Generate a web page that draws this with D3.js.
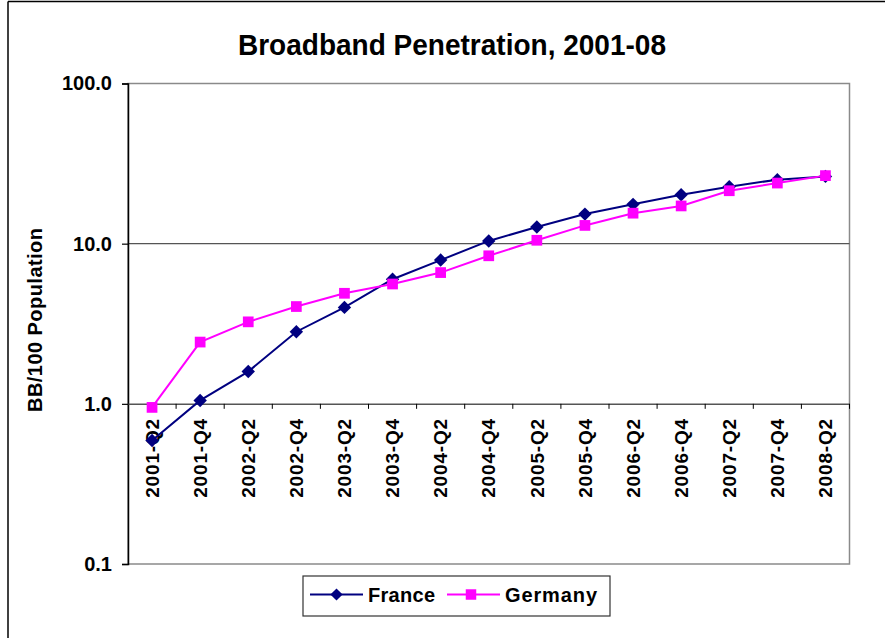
<!DOCTYPE html>
<html>
<head>
<meta charset="utf-8">
<script src="https://cdn.jsdelivr.net/npm/d3@7"></script>
<style>
  body { margin: 0; background: #fff; }
  svg text { font-family: "Liberation Sans", Arial, sans-serif; font-weight: bold; fill: #000; }
</style>
</head>
<body>
<svg id="chart" width="885" height="638"></svg>
<script>
// quarters on the x axis
const quarters = ["2001-Q2", "2001-Q4", "2002-Q2", "2002-Q4", "2003-Q2", "2003-Q4", "2004-Q2", "2004-Q4",
                  "2005-Q2", "2005-Q4", "2006-Q2", "2006-Q4", "2007-Q2", "2007-Q4", "2008-Q2"];
// broadband lines per 100 people
const france  = [0.59, 1.05, 1.59, 2.82, 4.0, 6.0, 7.9, 10.4, 12.7, 15.3, 17.6, 20.2, 22.7, 25.1, 26.3];
const germany = [0.95, 2.43, 3.25, 4.05, 4.9, 5.6, 6.6, 8.4, 10.5, 13.0, 15.5, 17.2, 21.4, 23.9, 26.6];
const yTicks = [0.1, 1, 10, 100];

const svg = d3.select("#chart");
const plot = {left: 128, top: 83.5, right: 849.5, bottom: 564};

// chart frame (only left and top edges are visible in the original)
svg.append("line").attr("x1", 8).attr("x2", 8).attr("y1", 1.5).attr("y2", 638)
    .attr("stroke", "#000").attr("stroke-width", 1.5);
svg.append("line").attr("x1", 8).attr("x2", 885).attr("y1", 1.5).attr("y2", 1.5)
    .attr("stroke", "#000").attr("stroke-width", 1.5);

svg.append("text")
    .attr("x", 452).attr("y", 55)
    .attr("text-anchor", "middle")
    .style("font-size", "29px")
    .attr("textLength", 428)
    .attr("lengthAdjust", "spacingAndGlyphs")
    .text("Broadband Penetration, 2001-08");

const x = d3.scaleBand().domain(quarters).range([plot.left, plot.right]);
const y = d3.scaleLog().domain([0.1, 100]).range([plot.bottom, plot.top]);

// plot area border
svg.append("rect")
    .attr("x", plot.left).attr("y", plot.top)
    .attr("width", plot.right - plot.left).attr("height", plot.bottom - plot.top)
    .attr("fill", "none").attr("stroke", "#8a8a8a").attr("stroke-width", 1.5);

// gridline at 10
svg.append("line")
    .attr("x1", plot.left).attr("x2", plot.right)
    .attr("y1", y(10)).attr("y2", y(10))
    .attr("stroke", "#555").attr("stroke-width", 1.2);

// y axis
const yAxis = svg.append("g")
    .attr("transform", `translate(${plot.left},0)`)
    .call(d3.axisLeft(y).tickValues(yTicks).tickFormat(d3.format(".1f")).tickSize(6).tickPadding(10));
yAxis.select(".domain").attr("stroke", "#000").attr("stroke-width", 1.5);
yAxis.selectAll(".tick line").attr("stroke", "#000").attr("stroke-width", 1.2);
yAxis.selectAll("text").style("font-size", "20px").attr("font-family", null);

// x axis crosses at 1.0
const xAxis = svg.append("g")
    .attr("transform", `translate(0,${y(1)})`)
    .call(d3.axisBottom(x).tickSize(0).tickPadding(0));
xAxis.select(".domain").attr("stroke", "#555").attr("stroke-width", 1.5);
xAxis.selectAll("text")
    .style("font-size", "19px")
    .attr("font-family", null)
    .attr("transform", "rotate(-90)")
    .attr("text-anchor", "end")
    .attr("textLength", 79)
    .attr("x", -15).attr("y", 0).attr("dy", "0.35em");
// tick marks at category boundaries
xAxis.selectAll(".boundary")
    .data(quarters)
    .join("line")
    .attr("class", "boundary")
    .attr("x1", d => x(d) + x.bandwidth())
    .attr("x2", d => x(d) + x.bandwidth())
    .attr("y1", 0).attr("y2", 5)
    .attr("stroke", "#000").attr("stroke-width", 1);

svg.append("text")
    .attr("transform", `translate(42,320) rotate(-90)`)
    .attr("text-anchor", "middle")
    .style("font-size", "20px")
    .attr("textLength", 184)
    .text("BB/100 Population");

const cx = d => x(d) + x.bandwidth() / 2;
const line = d3.line().x(d => cx(d.q)).y(d => y(d.v));

// diamonds are squares turned 45 degrees
const series = [
    {name: "France", color: "#000080", values: france, marker: d3.symbolSquare, size: 90, rot: 45},
    {name: "Germany", color: "#ff00ff", values: germany, marker: d3.symbolSquare, size: 115, rot: 0}
];

series.forEach(s => {
    const pts = quarters.map((q, i) => ({q: q, v: s.values[i]}));
    svg.append("path")
        .datum(pts)
        .attr("d", line)
        .attr("fill", "none")
        .attr("stroke", s.color)
        .attr("stroke-width", 2);
    svg.append("g").selectAll("path")
        .data(pts).join("path")
        .attr("transform", d => `translate(${cx(d.q)},${y(d.v)}) rotate(${s.rot})`)
        .attr("d", d3.symbol(s.marker, s.size))
        .attr("fill", s.color);
});

// legend
const legend = svg.append("g").attr("transform", "translate(303,576)");
legend.append("rect")
    .attr("width", 307).attr("height", 40)
    .attr("fill", "#fff").attr("stroke", "#333").attr("stroke-width", 1.2);
const offsets = [7, 144];
series.forEach((s, i) => {
    const g = legend.append("g").attr("transform", `translate(${offsets[i]},18.5)`);
    g.append("line").attr("x1", 0).attr("x2", 53).attr("stroke", s.color).attr("stroke-width", 2);
    g.append("path").attr("transform", `translate(${i ? 24 : 26.5},0) rotate(${s.rot})`)
        .attr("d", d3.symbol(s.marker, i ? 110 : 75)).attr("fill", s.color);
    g.append("text").attr("x", 58).attr("y", 0).attr("dy", "0.35em")
        .style("font-size", "20px")
        .attr("textLength", i ? 92 : 67)
        .text(s.name);
});
</script>
</body>
</html>
